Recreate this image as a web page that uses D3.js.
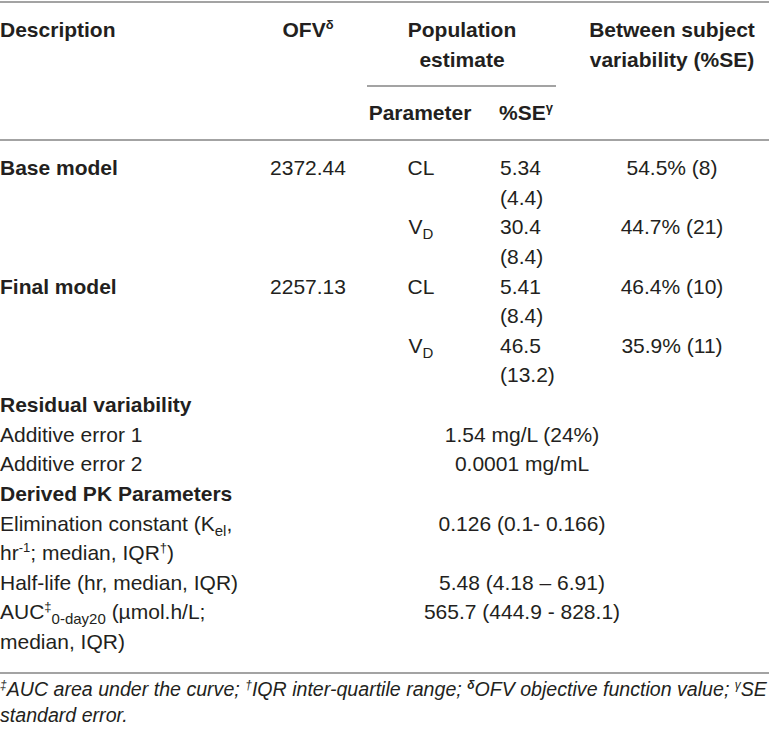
<!DOCTYPE html>
<html>
<head>
<meta charset="utf-8">
<script src="https://cdn.jsdelivr.net/npm/d3@7/dist/d3.min.js"></script>
<style>
  html, body { margin: 0; padding: 0; background: #fff; }
  svg { display: block; }
  text { font-family: "Liberation Sans", Arial, Helvetica, sans-serif; fill: #231f20; }
</style>
</head>
<body>
<svg id="chart" width="772" height="732"></svg>
<script>
// ---------- data ----------
const headerDescription = "Description";
const headerOFV = "OFV^{δ}";
const headerPopulation = ["Population", "estimate"];
const headerParameter = "Parameter";
const headerSE = "%SE^{γ}";
const headerBSV = ["Between subject", "variability (%SE)"];

const modelNames = ["Base model", "Final model"];
const ofvValues = ["2372.44", "2257.13"];
const parameterNames = ["CL", "V_{D}"];
const estimates = [["5.34", "30.4"], ["5.41", "46.5"]];
const estimateSE = [["4.4", "8.4"], ["8.4", "13.2"]];
const bsvValues = [["54.5", "44.7"], ["46.4", "35.9"]];
const bsvSE = [["8", "21"], ["10", "11"]];

const residualTitle = "Residual variability";
const residualLabels = ["Additive error 1", "Additive error 2"];
const residualValues = ["1.54 mg/L (24%)", "0.0001 mg/mL"];

const derivedTitle = "Derived PK Parameters";
const derivedLabels = [
  ["Elimination constant (K_{el},", "hr^{-1}; median, IQR^{†})"],
  ["Half-life (hr, median, IQR)"],
  ["AUC^{‡}_{0-day20} (µmol.h/L;", "median, IQR)"]
];
const derivedValues = ["0.126 (0.1- 0.166)", "5.48 (4.18 – 6.91)", "565.7 (444.9 - 828.1)"];

const footnoteLines = [
  "^{‡}AUC area under the curve; ^{†}IQR inter-quartile range; ^{*δ}OFV objective function value; ^{γ}SE",
  "standard error."
];

// ---------- layout ----------
const svg = d3.select("#chart");
const FS = 21;
const ruleColor = "#a3a3a3";

const col = {
  desc: 0,
  ofv: 308,
  param: 421,
  se: 500,
  pop: 462,
  bsv: 672,
  merged: 522
};

// body line index -> baseline
const lineY = d3.scaleLinear().domain([0, 16]).range([175, 649]);

// rich text: ^{..} superscript, _{..} subscript, ^{*..} bold superscript
function rich(sel, str, opts = {}) {
  const fs = opts.fs || FS;
  const t = sel.append("text")
    .attr("x", opts.x)
    .attr("y", opts.y)
    .attr("text-anchor", opts.anchor || "start")
    .style("font-size", fs + "px")
    .style("font-weight", opts.bold ? "bold" : "normal")
    .style("font-style", opts.italic ? "italic" : "normal");
  const re = /(\^\{[^}]*\}|_\{[^}]*\}|[^^_]+)/g;
  let m, shift = 0;
  while ((m = re.exec(str)) !== null) {
    const tok = m[1];
    let txt = tok, target = 0, size = fs, bold = null;
    if (tok.startsWith("^{")) {
      txt = tok.slice(2, -1); target = -Math.round(fs * 0.38); size = Math.round(fs * 0.62);
      if (txt.startsWith("*")) { txt = txt.slice(1); bold = true; }
    } else if (tok.startsWith("_{")) {
      txt = tok.slice(2, -1); target = Math.round(fs * 0.22); size = Math.round(fs * 0.7);
    }
    const ts = t.append("tspan").attr("dy", target - shift).style("font-size", size + "px").text(txt);
    if (bold) ts.style("font-weight", "bold");
    shift = target;
  }
  return t;
}

function rule(y, x1 = 0, x2 = 769) {
  svg.append("line")
    .attr("x1", x1).attr("x2", x2)
    .attr("y1", y).attr("y2", y)
    .attr("stroke", ruleColor).attr("stroke-width", 2);
}

// ---------- rules ----------
rule(2);
rule(86, 367, 556);
rule(140);
rule(673);

// ---------- header ----------
const hdr = svg.append("g");
rich(hdr, headerDescription, { x: col.desc, y: 37, bold: true });
rich(hdr, headerOFV, { x: col.ofv, y: 37, bold: true, anchor: "middle" });
headerPopulation.forEach((s, i) => rich(hdr, s, { x: col.pop, y: 37 + i * 30, bold: true, anchor: "middle" }));
headerBSV.forEach((s, i) => rich(hdr, s, { x: col.bsv, y: 37 + i * 30, bold: true, anchor: "middle" }));
rich(hdr, headerParameter, { x: 420, y: 120, bold: true, anchor: "middle" });
rich(hdr, headerSE, { x: col.se - 1, y: 120, bold: true });

// ---------- model rows ----------
const body = svg.append("g");
modelNames.forEach((name, mi) => {
  const base = mi * 4;
  rich(body, name, { x: col.desc, y: lineY(base), bold: true });
  rich(body, ofvValues[mi], { x: col.ofv, y: lineY(base), anchor: "middle" });
  parameterNames.forEach((p, pi) => {
    const k = base + pi * 2;
    rich(body, p, { x: col.param, y: lineY(k), anchor: "middle" });
    rich(body, estimates[mi][pi], { x: col.se, y: lineY(k) });
    rich(body, "(" + estimateSE[mi][pi] + ")", { x: col.se, y: lineY(k + 1) });
    rich(body, bsvValues[mi][pi] + "% (" + bsvSE[mi][pi] + ")", { x: col.bsv, y: lineY(k), anchor: "middle" });
  });
});

// ---------- residual ----------
rich(body, residualTitle, { x: col.desc, y: lineY(8), bold: true });
residualLabels.forEach((l, i) => {
  rich(body, l, { x: col.desc, y: lineY(9 + i) });
  rich(body, residualValues[i], { x: col.merged, y: lineY(9 + i), anchor: "middle" });
});

// ---------- derived ----------
rich(body, derivedTitle, { x: col.desc, y: lineY(11), bold: true });
let k = 12;
derivedLabels.forEach((lines, i) => {
  rich(body, derivedValues[i], { x: col.merged, y: lineY(k), anchor: "middle" });
  lines.forEach((l, j) => rich(body, l, { x: col.desc, y: lineY(k + j) }));
  k += lines.length;
});

// ---------- footnote ----------
footnoteLines.forEach((l, i) => rich(svg, l, { x: 0, y: 696 + i * 26, italic: true, fs: 19.6 }));
</script>
</body>
</html>
